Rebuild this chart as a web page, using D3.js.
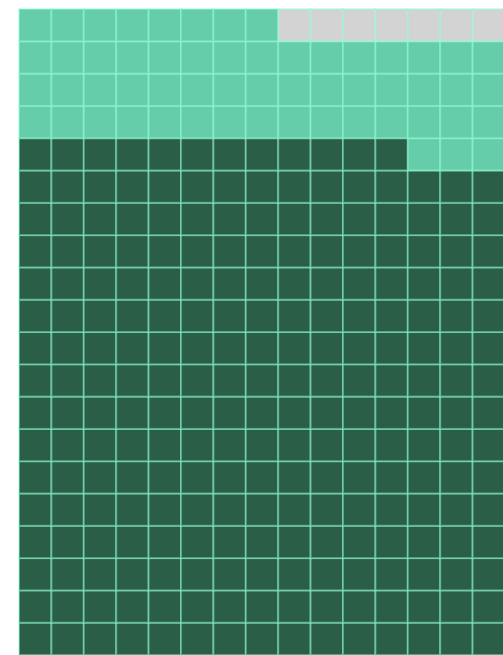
<!DOCTYPE html>
<html>
<head>
<meta charset="utf-8">
<script src="https://cdn.jsdelivr.net/npm/d3@7"></script>
<style>
html,body{margin:0;padding:0;background:#fff;overflow:hidden;}
svg{display:block;}
</style>
</head>
<body>
<svg id="chart" width="503" height="655"></svg>
<script>
// Waffle chart data (filled from bottom-left, row by row, upward)
const categories = ["Group A", "Group B", "Group C"];
const counts = [237, 56, 7];
const colorsList = ["#2a5e46", "#66cdaa", "#d3d3d3"];
const nCols = 15;
const nRows = 20;

const svg = d3.select("#chart");
const cellW = 32.4, cellH = 32.3;
const marginLeft = 19, marginTop = 9;

const x = d3.scaleBand().domain(d3.range(nCols)).range([marginLeft, marginLeft + cellW * nCols]).padding(0);
const y = d3.scaleBand().domain(d3.range(nRows)).range([marginTop, marginTop + cellH * nRows]).padding(0);
const color = d3.scaleOrdinal().domain(categories).range(colorsList);

const cells = [];
let idx = 0;
categories.forEach((c, k) => {
  for (let j = 0; j < counts[k]; j++) {
    cells.push({cat: c, col: idx % nCols, row: nRows - 1 - Math.floor(idx / nCols)});
    idx++;
  }
});

svg.append("g").selectAll("rect").data(cells).join("rect")
  .attr("x", d => x(d.col))
  .attr("y", d => y(d.row))
  .attr("width", x.bandwidth())
  .attr("height", y.bandwidth())
  .attr("fill", d => color(d.cat))
  .attr("stroke", "#8fffd8")
  .attr("stroke-opacity", 0.45)
  .attr("stroke-width", 2);
</script>
</body>
</html>
